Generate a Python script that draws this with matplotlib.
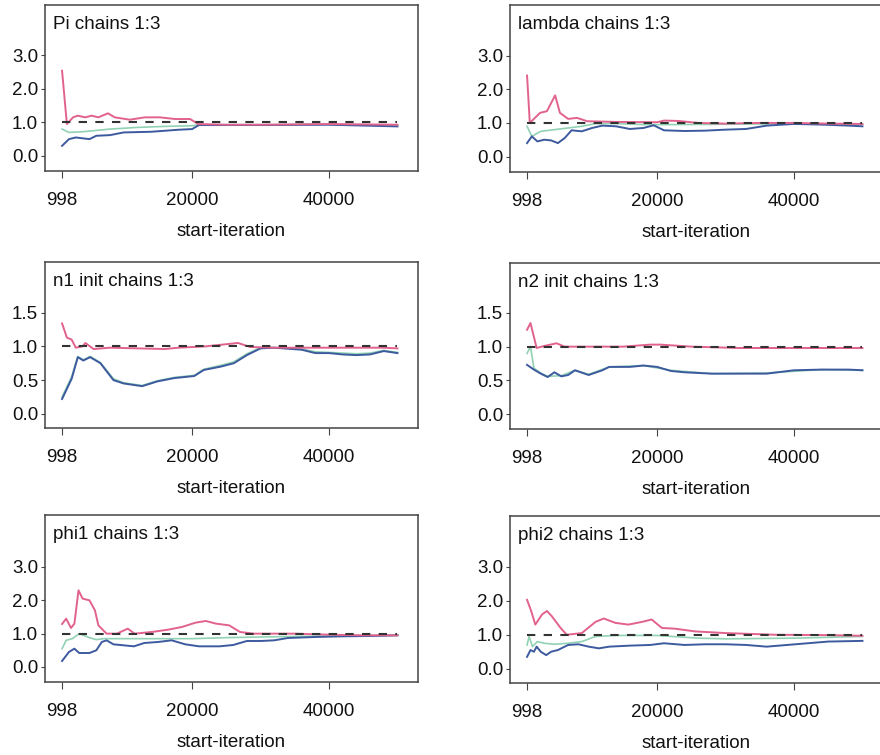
import matplotlib
matplotlib.use("Agg")
import matplotlib.pyplot as plt

plt.rcParams['font.family'] = ['Liberation Sans', 'DejaVu Sans']

# colours of the three BGR traces
RATIO_COLOR = '#e2628e'
POOLED_COLOR = '#92d2b4'
WITHIN_COLOR = '#3d5a9f'
FONT_SIZE = 13.5

x_ticks = [998, 20000, 40000]

# ---- Pi ----
pi_ratio_x = [998, 1700, 2600, 3300, 4400, 5300, 6300, 7700, 8700, 10900, 13100, 15300,
              17500, 19700, 20900, 25000, 30000, 35000, 40000, 45000, 50000]
pi_ratio_y = [2.54, 0.95, 1.15, 1.2, 1.15, 1.2, 1.15, 1.27, 1.15, 1.08, 1.15, 1.15,
              1.1, 1.1, 0.95, 0.93, 0.93, 0.94, 0.95, 0.94, 0.93]
pi_pooled_x = [998, 2000, 4000, 6000, 8000, 12000, 16000, 20000, 21000, 30000, 40000, 50000]
pi_pooled_y = [0.8, 0.7, 0.72, 0.76, 0.8, 0.85, 0.88, 0.9, 0.93, 0.93, 0.94, 0.92]
pi_within_x = [998, 2000, 3000, 5000, 6000, 8000, 10000, 14000, 18000, 20000, 21000,
               30000, 40000, 50000]
pi_within_y = [0.3, 0.5, 0.55, 0.5, 0.6, 0.62, 0.7, 0.72, 0.78, 0.8, 0.92, 0.92, 0.93, 0.88]

# ---- lambda ----
lam_ratio_x = [998, 1400, 2900, 3900, 5100, 5800, 7000, 8300, 9800, 14000, 20000, 21000,
               23000, 26000, 30000, 35000, 40000, 45000, 50000]
lam_ratio_y = [2.41, 1.0, 1.3, 1.35, 1.82, 1.3, 1.12, 1.15, 1.05, 1.03, 1.02, 1.07,
               1.06, 1.0, 0.98, 1.0, 1.0, 0.98, 0.97]
lam_pooled_x = [998, 1700, 3000, 5000, 7000, 9000, 11000, 14000, 18000, 22000, 30000,
                40000, 50000]
lam_pooled_y = [0.9, 0.6, 0.75, 0.8, 0.85, 0.9, 0.98, 0.98, 0.95, 0.95, 0.96, 0.98, 0.96]
lam_within_x = [998, 1700, 2500, 3500, 4500, 5500, 6500, 7500, 9000, 10500, 12000, 14000,
                16000, 18000, 19500, 21000, 24000, 27000, 30000, 33000, 36000, 40000,
                44000, 48000, 50000]
lam_within_y = [0.4, 0.6, 0.45, 0.5, 0.48, 0.4, 0.55, 0.78, 0.75, 0.85, 0.92, 0.9,
                0.82, 0.85, 0.93, 0.78, 0.76, 0.77, 0.8, 0.82, 0.92, 0.97,
                0.95, 0.92, 0.9]

# ---- n1 init ----
n1_ratio_x = [998, 1700, 2400, 3000, 4000, 4400, 5600, 8000, 12000, 16000, 18000, 22000,
              26700, 28500, 32000, 36000, 40000, 44000, 48000, 50000]
n1_ratio_y = [1.34, 1.13, 1.1, 0.98, 1.0, 1.05, 0.96, 0.98, 0.97, 0.96, 0.98, 1.0,
              1.05, 0.99, 0.98, 0.98, 0.98, 0.98, 0.98, 0.97]
n1_x = [998, 2400, 3300, 4100, 5100, 6600, 8500, 10000, 12700, 14900, 17400, 20300,
        21700, 24200, 26100, 28000, 30000, 32000, 36000, 38000, 40000, 42000, 44000,
        46000, 48000, 50000]
n1_pooled_y = [0.25, 0.55, 0.85, 0.8, 0.85, 0.76, 0.52, 0.46, 0.42, 0.49, 0.54, 0.57,
               0.66, 0.72, 0.77, 0.89, 0.98, 0.98, 0.96, 0.92, 0.91, 0.9, 0.89,
               0.9, 0.94, 0.91]
n1_within_y = [0.22, 0.52, 0.84, 0.79, 0.84, 0.75, 0.5, 0.45, 0.41, 0.48, 0.53, 0.56,
               0.65, 0.7, 0.75, 0.87, 0.97, 0.98, 0.95, 0.9, 0.9, 0.88, 0.87,
               0.88, 0.93, 0.9]

# ---- n2 init ----
n2_ratio_x = [998, 1500, 2400, 3500, 5300, 6500, 10000, 15000, 19000, 20500, 25000,
              32000, 40000, 45000, 50000]
n2_ratio_y = [1.25, 1.35, 0.98, 1.01, 1.05, 1.0, 1.0, 1.0, 1.03, 1.03, 1.0,
              0.98, 0.98, 0.98, 0.98]
n2_pooled_x = [998, 1500, 2000, 3000, 4000, 6000, 8000, 10000, 13000, 18000, 22000,
               28000, 36000, 44000, 50000]
n2_pooled_y = [0.9, 1.0, 0.68, 0.61, 0.56, 0.57, 0.65, 0.59, 0.7, 0.72, 0.65,
               0.6, 0.61, 0.66, 0.65]
n2_within_x = [998, 2000, 3000, 4000, 5000, 6000, 7000, 8000, 10000, 12000, 13000,
               16000, 18000, 20000, 22000, 24000, 28000, 32000, 36000, 40000, 44000,
               48000, 50000]
n2_within_y = [0.73, 0.66, 0.6, 0.55, 0.62, 0.56, 0.58, 0.65, 0.58, 0.65, 0.7,
               0.7, 0.72, 0.7, 0.64, 0.62, 0.6, 0.6, 0.6, 0.65, 0.66, 0.66, 0.65]

# ---- phi1 ----
phi1_ratio_x = [998, 1600, 2300, 2800, 3400, 4000, 5000, 5800, 6300, 7500, 9000, 10600,
                11600, 14100, 16500, 18500, 20500, 22000, 23500, 25400, 27000, 29000,
                35000, 40000, 45000, 50000]
phi1_ratio_y = [1.29, 1.45, 1.17, 1.3, 2.3, 2.05, 2.0, 1.7, 1.25, 1.0, 1.0, 1.15,
                1.0, 1.05, 1.12, 1.2, 1.33, 1.38, 1.3, 1.25, 1.05, 1.0,
                1.0, 0.97, 0.95, 0.95]
phi1_pooled_x = [998, 1600, 2500, 3500, 5000, 6000, 7000, 10000, 15000, 20000, 25000,
                 30000, 40000, 50000]
phi1_pooled_y = [0.55, 0.8, 0.85, 1.0, 0.88, 0.82, 0.85, 0.85, 0.85, 0.85, 0.88,
                 0.9, 0.93, 0.95]
phi1_within_x = [998, 2000, 2800, 3500, 5000, 6000, 6800, 7500, 8500, 10000, 11500,
                 13000, 15000, 17000, 19000, 21000, 24000, 26000, 28000, 30000, 32000,
                 34000, 38000, 42000, 46000, 50000]
phi1_within_y = [0.18, 0.45, 0.55, 0.42, 0.42, 0.5, 0.75, 0.8, 0.68, 0.65, 0.62,
                 0.72, 0.75, 0.8, 0.68, 0.62, 0.62, 0.66, 0.78, 0.78, 0.8,
                 0.87, 0.9, 0.92, 0.93, 0.95]

# ---- phi2 ----
phi2_ratio_x = [998, 1600, 2200, 3200, 3900, 4600, 5900, 6800, 9000, 11000, 12200, 13900,
                15800, 17800, 19200, 20700, 22600, 25500, 30000, 37300, 45000, 50000]
phi2_ratio_y = [2.03, 1.7, 1.3, 1.6, 1.7, 1.55, 1.2, 1.0, 1.05, 1.38, 1.48, 1.35,
                1.3, 1.38, 1.45, 1.2, 1.18, 1.1, 1.05, 1.0, 0.99, 0.97]
phi2_pooled_x = [998, 1300, 1800, 2500, 3500, 5000, 7000, 9000, 11000, 14000, 20000,
                 26000, 30000, 40000, 50000]
phi2_pooled_y = [0.7, 0.95, 0.65, 0.8, 0.75, 0.72, 0.75, 0.8, 0.95, 0.98, 0.98,
                 0.9, 0.88, 0.9, 0.95]
phi2_within_x = [998, 1500, 2000, 2400, 3000, 3800, 4500, 5500, 7000, 8500, 10000,
                 11500, 13000, 16000, 19000, 21000, 24000, 27000, 30000, 33000, 36000,
                 39000, 42000, 45000, 50000]
phi2_within_y = [0.35, 0.55, 0.5, 0.65, 0.5, 0.4, 0.5, 0.55, 0.7, 0.72, 0.65,
                 0.6, 0.65, 0.68, 0.7, 0.75, 0.7, 0.72, 0.72, 0.7, 0.65,
                 0.7, 0.75, 0.8, 0.82]

panels = [
    ("Pi chains 1:3", (0.0511, 0.7735, 0.4239, 0.2199), (-0.45, 4.5), [0.0, 1.0, 2.0, 3.0],
     (pi_ratio_x, pi_ratio_y), (pi_pooled_x, pi_pooled_y), (pi_within_x, pi_within_y)),
    ("lambda chains 1:3", (0.5795, 0.7722, 0.4239, 0.2212), (-0.46, 4.51), [0.0, 1.0, 2.0, 3.0],
     (lam_ratio_x, lam_ratio_y), (lam_pooled_x, lam_pooled_y), (lam_within_x, lam_within_y)),
    ("n1 init chains 1:3", (0.0511, 0.4331, 0.4239, 0.2199), (-0.21, 2.25), [0.0, 0.5, 1.0, 1.5],
     (n1_ratio_x, n1_ratio_y), (n1_x, n1_pooled_y), (n1_x, n1_within_y)),
    ("n2 init chains 1:3", (0.5795, 0.4318, 0.4239, 0.2199), (-0.22, 2.24), [0.0, 0.5, 1.0, 1.5],
     (n2_ratio_x, n2_ratio_y), (n2_pooled_x, n2_pooled_y), (n2_within_x, n2_within_y)),
    ("phi1 chains 1:3", (0.0511, 0.0967, 0.4239, 0.2212), (-0.45, 4.56), [0.0, 1.0, 2.0, 3.0],
     (phi1_ratio_x, phi1_ratio_y), (phi1_pooled_x, phi1_pooled_y), (phi1_within_x, phi1_within_y)),
    ("phi2 chains 1:3", (0.5795, 0.0954, 0.4239, 0.2212), (-0.42, 4.5), [0.0, 1.0, 2.0, 3.0],
     (phi2_ratio_x, phi2_ratio_y), (phi2_pooled_x, phi2_pooled_y), (phi2_within_x, phi2_within_y)),
]

fig = plt.figure(figsize=(8.8, 7.55), dpi=100)

for title, pos, ylim, yticks, ratio, pooled, within in panels:
    ax = fig.add_axes(pos)
    ax.plot(pooled[0], pooled[1], color=POOLED_COLOR, lw=1.2)
    ax.plot(within[0], within[1], color=WITHIN_COLOR, lw=1.4)
    ax.plot(ratio[0], ratio[1], color=RATIO_COLOR, lw=1.4)
    ax.plot([998, 50000], [1.0, 1.0], color='#333333', lw=1.5, dashes=(4, 4))

    ax.set_xlim(-1500, 53000)
    ax.set_ylim(*ylim)
    ax.set_xticks(x_ticks)
    ax.set_xticklabels([str(t) for t in x_ticks])
    ax.set_yticks(yticks)
    ax.set_yticklabels([f"{t:.1f}" for t in yticks])

    for s in ax.spines.values():
        s.set_color('#444444')
        s.set_linewidth(1.1)
    ax.tick_params(axis='both', direction='out', color='#444444', labelsize=FONT_SIZE,
                   labelcolor='#111111')
    ax.tick_params(axis='x', length=5, pad=10)
    ax.tick_params(axis='y', length=3, pad=2)

    ax.text(0.021, 0.885, title, transform=ax.transAxes, fontsize=FONT_SIZE,
            va='center', ha='left', color='#111111')
    ax.set_xlabel("start-iteration", fontsize=FONT_SIZE, labelpad=10, color='#111111')

fig.savefig("out.png", dpi=100)
